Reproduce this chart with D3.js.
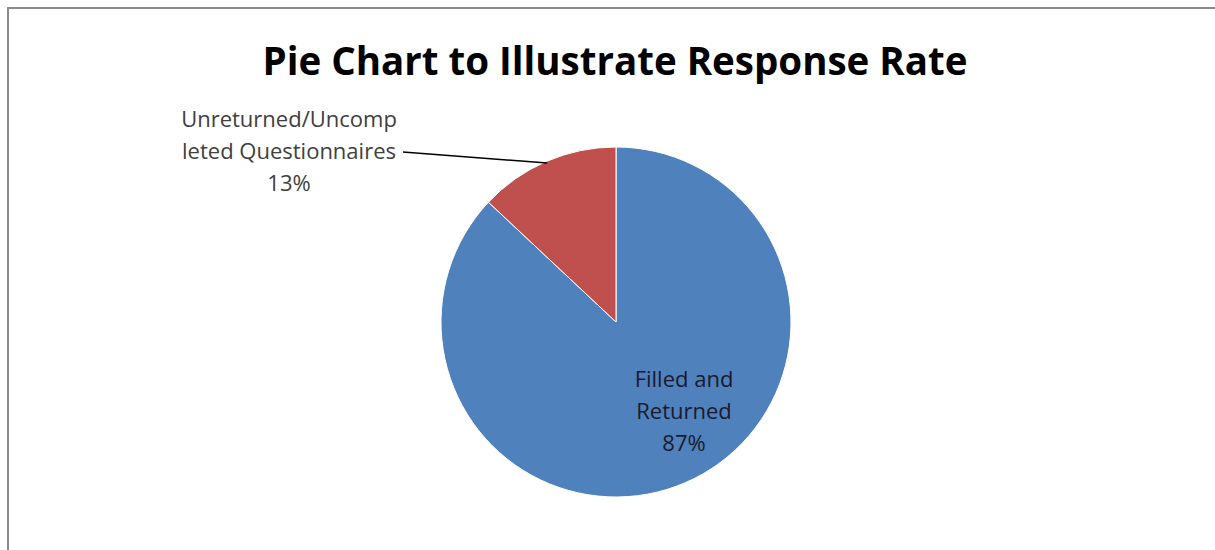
<!DOCTYPE html>
<html>
<head>
<meta charset="utf-8">
<script src="https://cdn.jsdelivr.net/npm/d3@7"></script>
<style>
  body { margin: 0; background: #fff; }
  text { font-family: "Open Sans", "Noto Sans", sans-serif; }
</style>
</head>
<body>
<div id="chart"></div>
<script>
// chart data
var categories = ["Filled and Returned", "Unreturned/Uncompleted Questionnaires"];
var values = [87, 13];
var colors = ["#4F81BD", "#C0504D"];
// label lines as they wrap in the picture
var labelLines = [["Filled and", "Returned", "87%"], ["Unreturned/Uncomp", "leted Questionnaires", "13%"]];

var width = 1215, height = 550;
var cx = 616, cy = 322, radius = 175;

var svg = d3.select("#chart").append("svg")
    .attr("width", width)
    .attr("height", height);

// frame (only top and left edges are visible in the picture)
svg.append("path")
    .attr("d", "M8,550 L8,8 L1215,8")
    .attr("fill", "none")
    .attr("stroke", "#8c8c8c")
    .attr("stroke-width", 2);

svg.append("text")
    .attr("x", 615)
    .attr("y", 75)
    .attr("text-anchor", "middle")
    .attr("font-size", 38.5)
    .attr("font-weight", "bold")
    .attr("fill", "#000")
    .text("Pie Chart to Illustrate Response Rate");

var pie = d3.pie().sort(null).value(function(d) { return d; });
var arc = d3.arc().innerRadius(0).outerRadius(radius);
var arcs = pie(values);

var g = svg.append("g").attr("transform", "translate(" + cx + "," + cy + ")");

g.selectAll("path")
    .data(arcs)
    .enter()
    .append("path")
    .attr("d", arc)
    .attr("fill", function(d, i) { return colors[i]; })
    .attr("stroke", "#fff")
    .attr("stroke-width", 1);

// label positions, relative to the pie centre
var labelPos = [[68, 65], [-327, -195]];

var labels = g.selectAll("text.lbl")
    .data(arcs)
    .enter()
    .append("text")
    .attr("class", "lbl")
    .attr("text-anchor", "middle")
    .attr("font-size", 22)
    .attr("fill", function(d, i) { return i == 0 ? "#1a1a2e" : "#404040"; })
    .attr("transform", function(d, i) { return "translate(" + labelPos[i][0] + "," + labelPos[i][1] + ")"; });

labels.selectAll("tspan")
    .data(function(d, i) { return labelLines[i]; })
    .enter()
    .append("tspan")
    .attr("x", 0)
    .attr("dy", function(d, j) { return j == 0 ? 0 : 32; })
    .text(function(d) { return d; });

// leader line from the small slice to its label
var small = arcs[1];
var mid = (small.startAngle + small.endAngle) / 2;
g.append("line")
    .attr("x1", -213)
    .attr("y1", -170)
    .attr("x2", Math.sin(mid) * radius * 0.99)
    .attr("y2", -Math.cos(mid) * radius * 0.99)
    .attr("stroke", "#000")
    .attr("stroke-width", 1.5);
</script>
</body>
</html>
